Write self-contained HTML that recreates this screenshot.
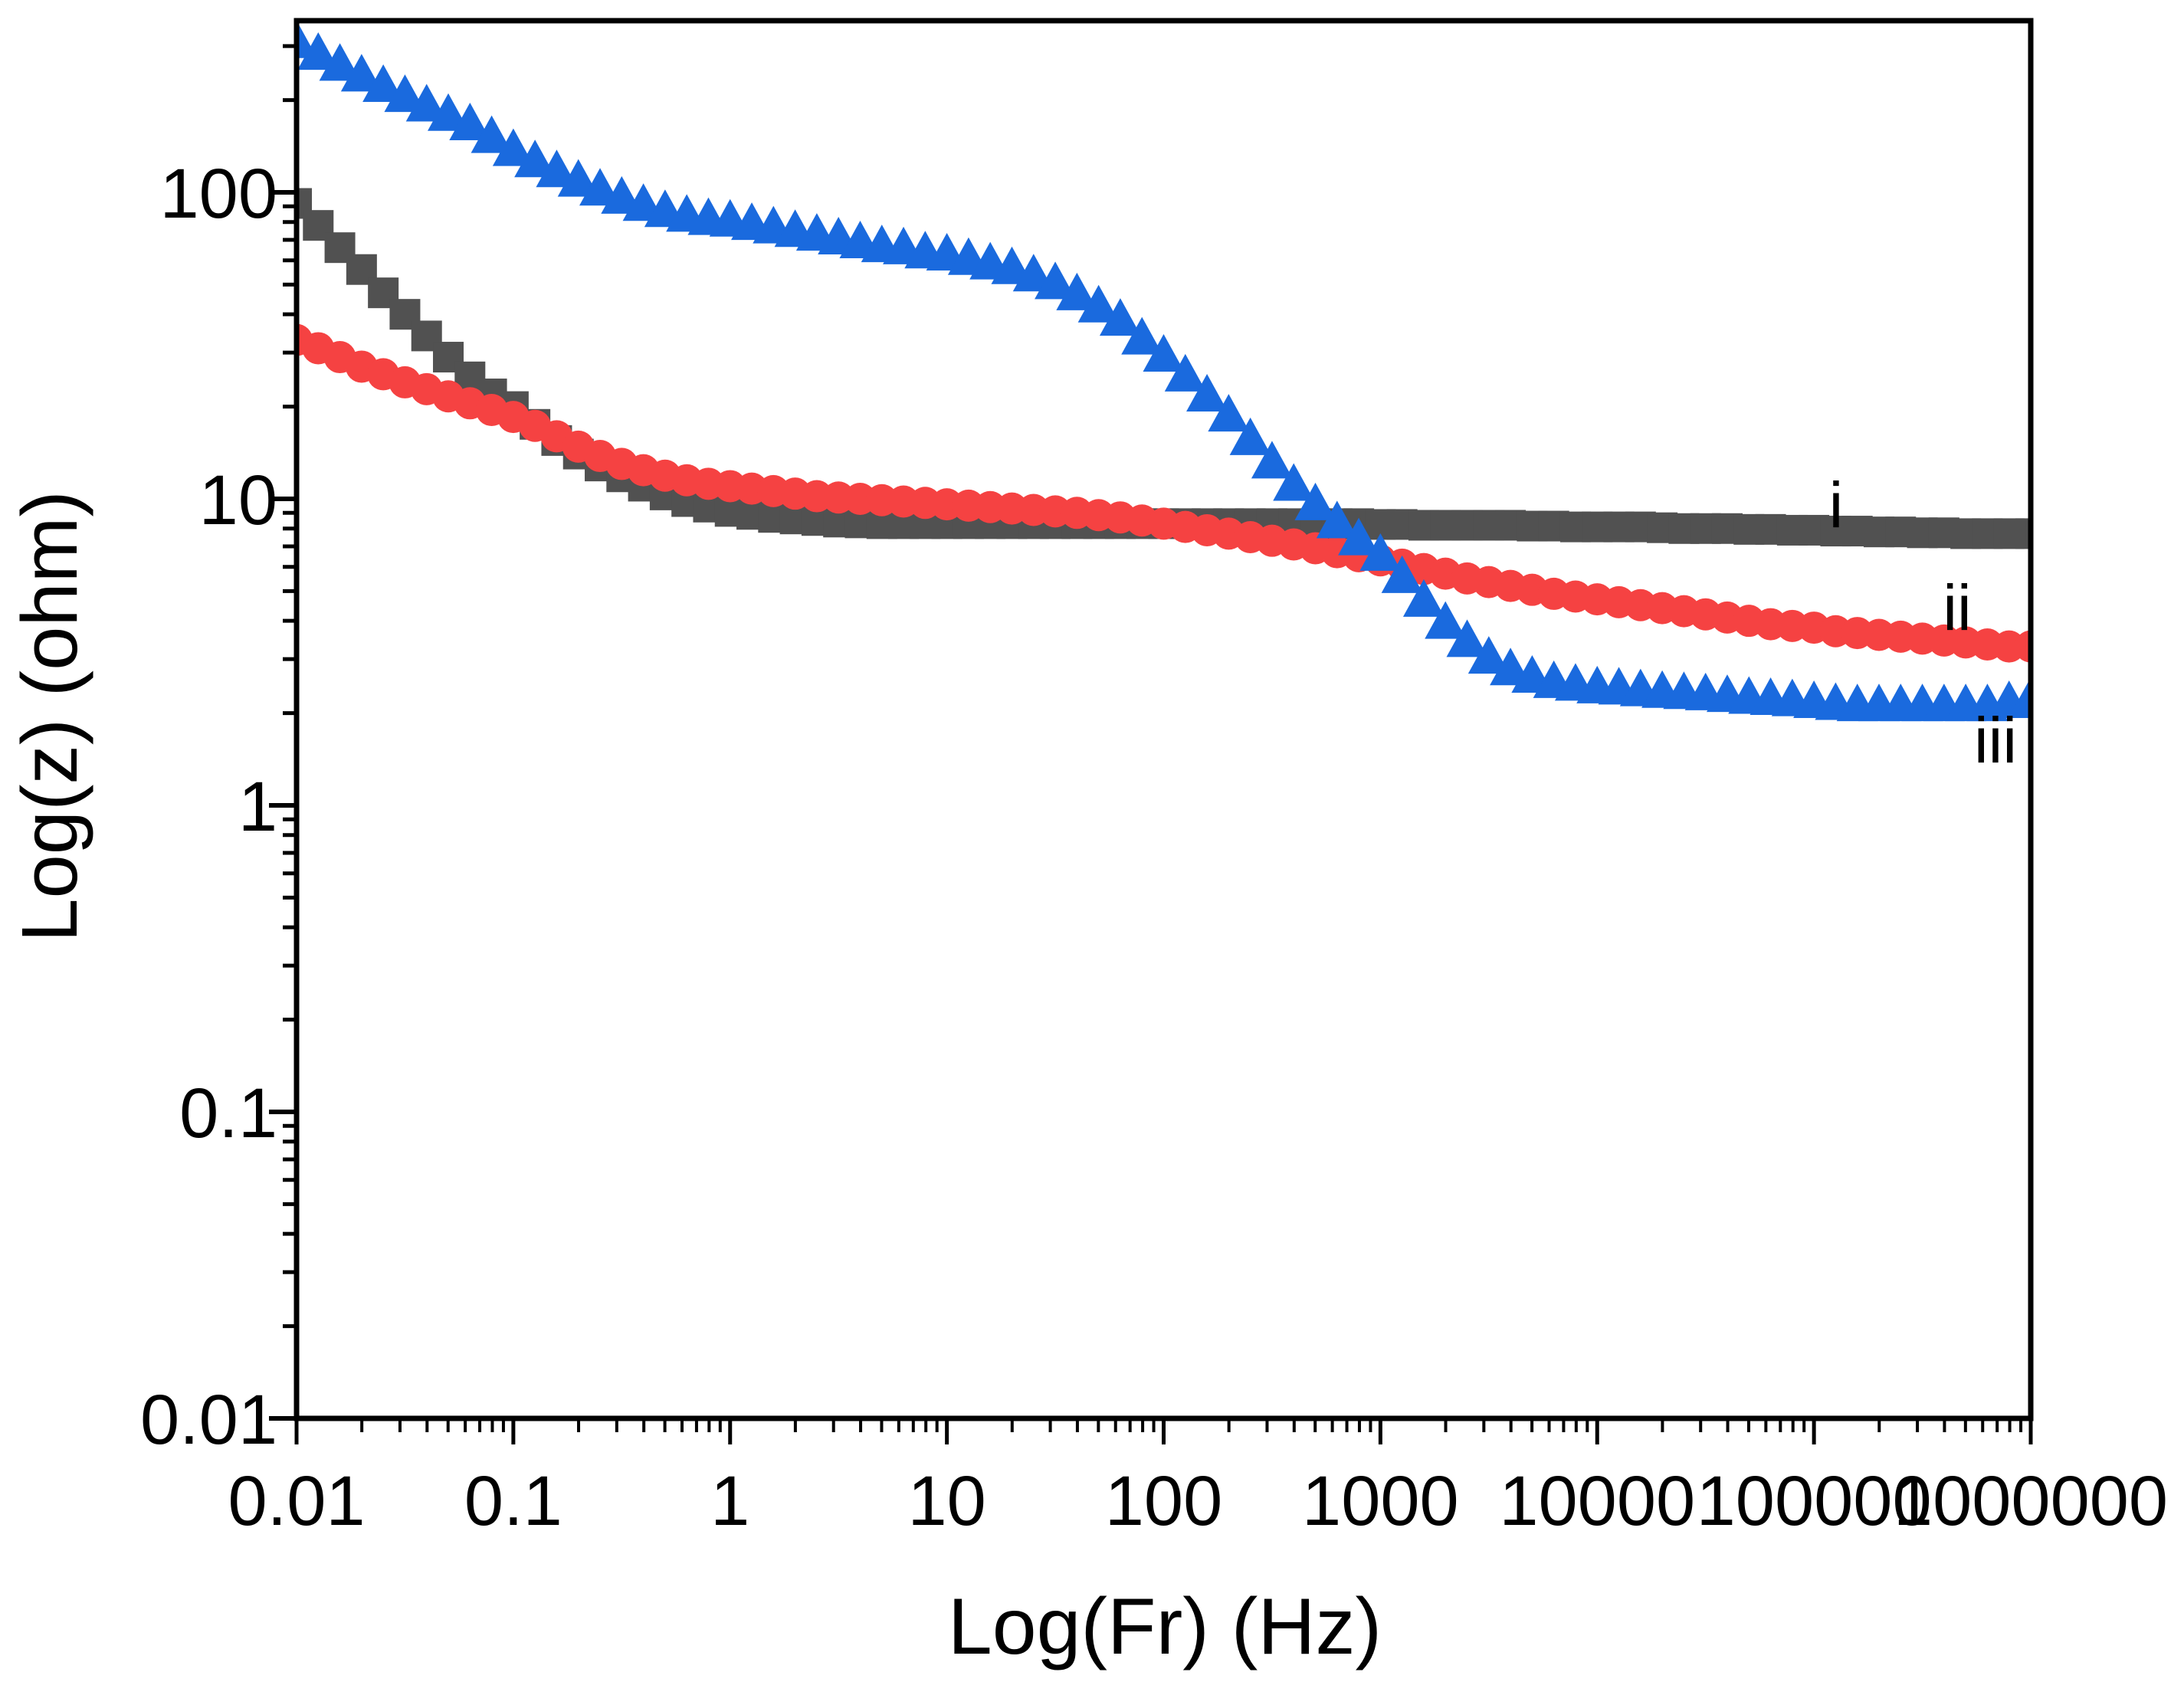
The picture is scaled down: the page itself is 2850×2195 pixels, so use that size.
<!DOCTYPE html>
<html><head><meta charset="utf-8"><style>
html,body{margin:0;padding:0;background:#fff;}
svg{display:block;font-family:"Liberation Sans",Arial,sans-serif;}
</style></head><body>
<svg id="chart" width="2850" height="2195" viewBox="0 0 2850 2195" xmlns="http://www.w3.org/2000/svg">
<defs><clipPath id="clip"><rect x="387" y="27" width="2263" height="1824"/></clipPath></defs>
<g id="marks" clip-path="url(#clip)"></g>
<g id="axes"></g>
<text x="1520" y="2158" font-size="104" text-anchor="middle">Log(Fr) (Hz)</text>
<text transform="translate(100,935) rotate(-90)" font-size="103" text-anchor="middle">Log(z) (ohm)</text>
<text x="2396" y="688" font-size="84" text-anchor="middle">i</text>
<text x="2554" y="822" font-size="84" text-anchor="middle">ii</text>
<text x="2604" y="995" font-size="84" text-anchor="middle">iii</text>
</svg>
<script>
const logFreqStart = -2, logFreqStep = 0.1;
const seriesI = [92,78,66,56,47,40,34,29,25,22,20,17.5,15.5,14,12.8,11.8,11,10.3,9.8,9.4,9.1,8.9,8.7,8.6,8.5,8.4,8.35,8.3,8.3,8.3,8.3,8.3,8.3,8.3,8.3,8.3,8.3,8.3,8.3,8.3,8.3,8.3,8.3,8.3,8.3,8.3,8.3,8.3,8.3,8.3,8.25,8.25,8.2,8.2,8.2,8.2,8.2,8.15,8.15,8.1,8.1,8.1,8.1,8.05,8.0,8.0,8.0,7.95,7.95,7.9,7.9,7.85,7.85,7.8,7.8,7.75,7.75,7.7,7.7,7.7,7.7];
const seriesII = [33,31,29,27,25.5,24,22.8,21.6,20.5,19.5,18.5,17.3,16,14.8,13.8,13,12.4,11.9,11.5,11.2,11,10.8,10.6,10.4,10.2,10.1,10,9.9,9.8,9.7,9.6,9.5,9.4,9.3,9.2,9.1,9,8.85,8.7,8.5,8.3,8.1,7.9,7.7,7.5,7.3,7.1,6.9,6.7,6.5,6.3,6.1,5.9,5.7,5.5,5.35,5.2,5.05,4.9,4.8,4.7,4.6,4.5,4.4,4.3,4.2,4.1,4.0,3.9,3.85,3.8,3.7,3.65,3.6,3.55,3.5,3.45,3.4,3.35,3.3,3.3];
const seriesIII = [306,280,258,238,220,204,190,177,165,150,136,125,116,108,101,95,90,86,83,81,80,78,76,74,72,70,68,66,65,63,62,60,58,56,53,50,46,42,38,33,29,25,21.5,18.5,15.5,13,11,9.5,8.3,7.3,6.5,5.5,4.6,3.9,3.4,3.0,2.75,2.6,2.5,2.45,2.4,2.38,2.35,2.32,2.3,2.28,2.25,2.22,2.2,2.18,2.15,2.12,2.1,2.1,2.1,2.1,2.1,2.1,2.1,2.15,2.2];
const xTickLabels = ["0.01","0.1","1","10","100","1000","10000","100000","1000000"];
const yTickLabels = ["0.01","0.1","1","10","100"];

const L=387,R=2650,T=27,B=1851;
const xMinLog=-2,xMaxLog=6;
const yDec=400, yMinLog=-2;
function xs(f){return L+(Math.log10(f)-xMinLog)/(xMaxLog-xMinLog)*(R-L);}
function ys(v){return B-(Math.log10(v)-yMinLog)*yDec;}
const NS="http://www.w3.org/2000/svg";
function mk(tag,attrs,parent){const e=document.createElementNS(NS,tag);for(const k in attrs)e.setAttribute(k,attrs[k]);parent.appendChild(e);return e;}
const marks=document.getElementById('marks'), axes=document.getElementById('axes');
function freq(i){return Math.pow(10,logFreqStart+i*logFreqStep);}
const gI=mk('g',{},marks);


seriesI.forEach((v,i)=>{const e=mk('rect',{x:xs(freq(i))-20,y:ys(v)-20,width:40,height:40,fill:'#515151'},gI);

});
const gII=mk('g',{},marks);


seriesII.forEach((v,i)=>{const e=mk('circle',{cx:xs(freq(i)),cy:ys(v),r:21,fill:'#f54242'},gII);

});
const gIII=mk('g',{},marks);


seriesIII.forEach((v,i)=>{const x=xs(freq(i)),y=ys(v);const e=mk('polygon',{points:`${x},${y-30} ${x-27},${y+19} ${x+27},${y+19}`,fill:'#1a6ade'},gIII);

});
const fr=mk('rect',{x:L,y:T,width:R-L,height:B-T,fill:'none',stroke:'#000','stroke-width':7},axes);


for(let d=xMinLog;d<=xMaxLog;d++){
  const x=xs(Math.pow(10,d));
  mk('line',{x1:x,y1:B,x2:x,y2:B+34,stroke:'#000','stroke-width':5},axes);
  const t=mk('text',{x:x,y:1990,'font-size':92,'text-anchor':'middle'},axes);
  t.textContent=xTickLabels[d-xMinLog];
  
  
  if(d<xMaxLog)for(let m=2;m<=9;m++){const xm=xs(m*Math.pow(10,d));mk('line',{x1:xm,y1:B,x2:xm,y2:B+18,stroke:'#000','stroke-width':4},axes);}
}
for(let d=-2;d<=2;d++){
  const y=ys(Math.pow(10,d));
  mk('line',{x1:L,y1:y,x2:L-36,y2:y,stroke:'#000','stroke-width':6},axes);
  const t=mk('text',{x:362,y:y+33,'font-size':92,'text-anchor':'end'},axes);
  t.textContent=yTickLabels[d+2];
  
  
  for(let m=2;m<=9;m++){const ym=ys(m*Math.pow(10,d));if(ym>T)mk('line',{x1:L,y1:ym,x2:L-18,y2:ym,stroke:'#000','stroke-width':5},axes);}
}
</script>
</body></html>
